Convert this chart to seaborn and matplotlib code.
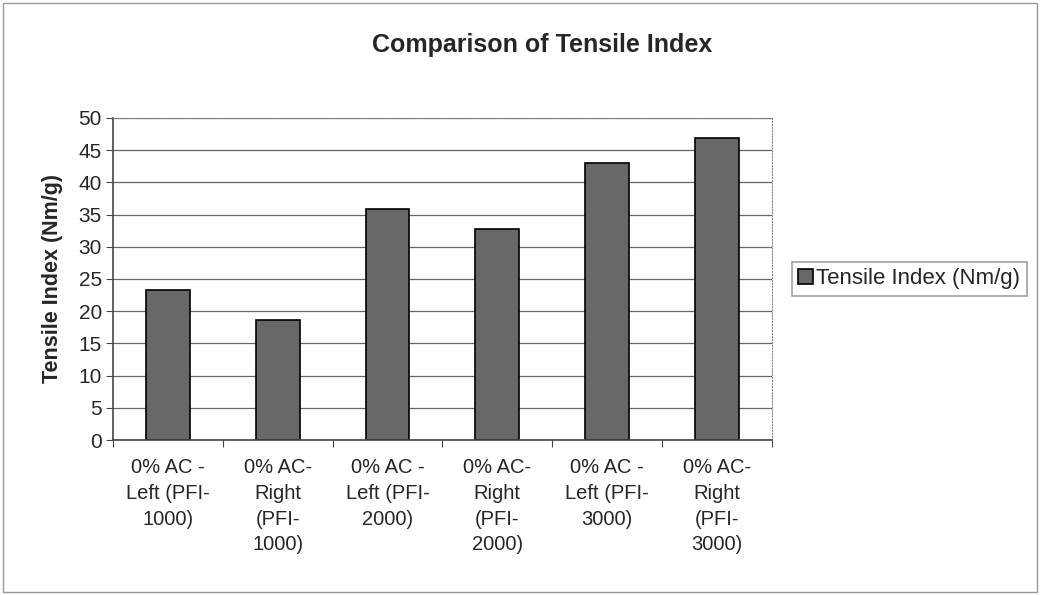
import pandas as pd
import seaborn as sns
import matplotlib.pyplot as plt
from matplotlib.ticker import FixedLocator

categories = ["0% AC -\nLeft (PFI-\n1000)", "0% AC-\nRight\n(PFI-\n1000)",
              "0% AC -\nLeft (PFI-\n2000)", "0% AC-\nRight\n(PFI-\n2000)",
              "0% AC -\nLeft (PFI-\n3000)", "0% AC-\nRight\n(PFI-\n3000)"]
tensile_index = [23.3, 18.6, 35.9, 32.8, 43.0, 46.9]
series_name = "Tensile Index (Nm/g)"

df = pd.DataFrame({"sample": categories, "value": tensile_index})

sns.set_style("white")
plt.rcParams['font.family'] = ['Liberation Sans', 'DejaVu Sans']

fig = plt.figure(figsize=(10.4, 5.95), dpi=100)
ax = fig.add_axes([0.1087, 0.2605, 0.6333, 0.5412])

sns.barplot(data=df, x="sample", y="value", color="#686868", saturation=1,
            width=0.4, edgecolor="black", linewidth=1.2, label=series_name, ax=ax)

ax.set_ylim(0, 50)
ax.set_xlim(-0.5, 5.5)
ax.set_yticks(range(0, 51, 5))
ax.yaxis.grid(True, color="#666666", linewidth=0.9)
ax.set_axisbelow(True)

# category ticks sit between bars
ax.xaxis.set_minor_locator(FixedLocator([i - 0.5 for i in range(7)]))
ax.tick_params(axis="x", which="major", length=0, labelsize=14.5, pad=13)
ax.tick_params(axis="x", which="minor", length=5, width=0.8, direction="out", color="#444444")
ax.tick_params(axis="y", length=5, width=0.8, direction="out", color="#444444", labelsize=15, pad=3)
ax.tick_params(bottom=True, left=True, which="both")
for lbl in ax.get_xticklabels():
    lbl.set_linespacing(1.45)

for side in ["top", "right"]:
    ax.spines[side].set_color("#888888")
    ax.spines[side].set_linestyle(":")
for side in ["left", "bottom"]:
    ax.spines[side].set_color("#444444")
    ax.spines[side].set_linewidth(1.2)

ax.set_xlabel("")
ax.set_ylabel(series_name, fontsize=15.5, fontweight="bold", labelpad=11)
fig.suptitle("Comparison of Tensile Index", fontsize=18, fontweight="bold", x=0.521, y=0.945)

leg = ax.legend(loc="center left", bbox_to_anchor=(1.02, 0.5), fontsize=16, frameon=True,
                fancybox=False, edgecolor="#888888", handlelength=0.65, handleheight=0.65,
                handletextpad=0.15, borderpad=0.3, borderaxespad=0.3)
leg.get_frame().set_linewidth(1.2)

# outer chart border
fig.patches.append(plt.Rectangle((0.003, 0.005), 0.994, 0.99, transform=fig.transFigure,
                                 fill=False, edgecolor="#999999", linewidth=1.0))

fig.savefig("out.png", dpi=100)
